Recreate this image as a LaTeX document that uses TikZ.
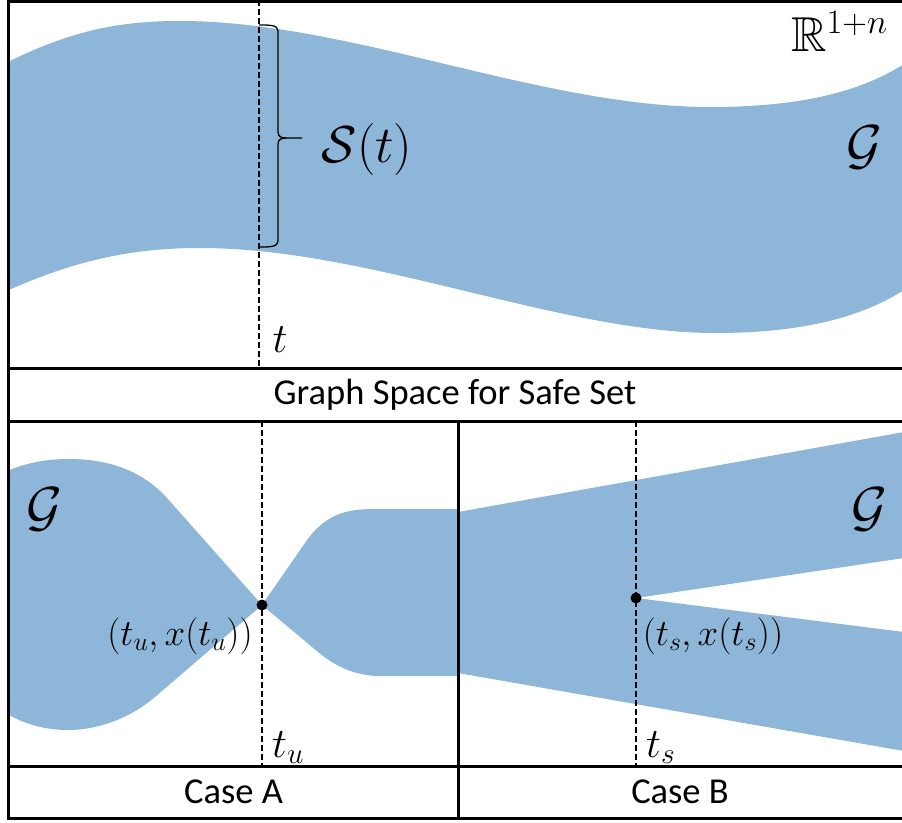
\RequirePackage{fix-cm}
\documentclass[tikz,border=0pt]{standalone}
\usepackage{amssymb}
\usepackage{fontspec}
\setmainfont{Carlito}
\newcommand\fsz[1]{\fontsize{#1}{#1}\selectfont}
\definecolor{setblue}{RGB}{142,182,217}
\tikzset{
  frameline/.style={line width=3pt, line cap=rect},
  dashline/.style={line width=1.6pt, dash pattern=on 6pt off 3pt},
  region/.style={fill=setblue, draw=none},
  lbl/.style={inner sep=0pt, text=black},
  capt/.style={inner sep=0pt, font=\fsz{36.5}},
  bracestyle/.style={line width=1.3pt},
  pt/.style={circle, fill=black, inner sep=0pt, minimum size=11pt}
}
\begin{document}
\begin{tikzpicture}[x=1pt,y=-1pt]
\useasboundingbox (0,0) rectangle (902,822);
% ---------- top panel ----------
\begin{scope}
\clip (8.5,1.5) rectangle (904,368);
\fill[region] (0,66) .. controls (70,30) and (120,21) .. (180,21)
  .. controls (350,21) and (540,107) .. (710,107)
  .. controls (800,107) and (860,92) .. (904,64)
  -- (904,290) .. controls (860,318) and (800,333) .. (715,333)
  .. controls (560,333) and (370,248) .. (200,248)
  .. controls (140,248) and (80,257) .. (0,294) -- cycle;
\end{scope}
\draw[dashline] (259,0) -- (259,368);
\draw[bracestyle] (259,25) .. controls (270,25) and (278,25) .. (278,31) -- (278,132)
  .. controls (278,137) and (282,138) .. (286,138) -- (302,138);
\draw[bracestyle] (286,138) .. controls (282,138) and (278,139) .. (278,144) -- (278,241)
  .. controls (278,247) and (270,247) .. (259,247);
\node[lbl, font=\fsz{52}] (St) at (367,149) {$\mathcal{S}(t)$};
\node[lbl, font=\fsz{55}] (Gtop) at (864,147) {$\mathcal{G}$};
\node[lbl, font=\fsz{49}, anchor=base west] (R) at (791,51) {$\mathbb{R}^{1+n}$};
\node[lbl, font=\fsz{42}] (t) at (280,340) {$t$};
% ---------- case A ----------
\begin{scope}
\clip (8.5,421) rectangle (458,766);
\fill[region] (262,605) -- (167,498) .. controls (138,466) and (100,459) .. (69,459)
  .. controls (40,459) and (20,465) .. (0,474) -- (0,710)
  .. controls (20,722) and (40,730) .. (69,730)
  .. controls (95,730) and (128,720) .. (155,697) -- cycle;
\fill[region] (262,605) -- (305,543) .. controls (324,515) and (345,509) .. (374,509)
  -- (460,509) -- (460,676) -- (380,676)
  .. controls (355,676) and (335,666) .. (318,652) -- cycle;
\end{scope}
% ---------- case B ----------
\begin{scope}
\clip (458,421) rectangle (904,766);
\fill[region] (458,512) -- (904,432) -- (904,558) -- (636,598) -- (904,632)
  -- (904,751) -- (458,673) -- cycle;
\end{scope}
\draw[dashline] (262,421) -- (262,766);
\draw[dashline] (636,421) -- (636,766);
\node[pt] (pu) at (262,605) {};
\node[pt] (ps) at (636,598) {};
\node[lbl, font=\fsz{55}] (GA) at (44,509) {$\mathcal{G}$};
\node[lbl, font=\fsz{55}] (GB) at (869,509) {$\mathcal{G}$};
\node[lbl, font=\fsz{37}] (lu) at (180,636) {$(t_u,x(t_u))$};
\node[lbl, font=\fsz{37}] (ls) at (713,636) {$(t_s,x(t_s))$};
\node[lbl, font=\fsz{42}, anchor=base west] (tu) at (272,757) {$t_u$};
\node[lbl, font=\fsz{42}, anchor=base west] (ts) at (646,757) {$t_s$};
% ---------- captions ----------
\node[capt] (cap1) at (455,395) {Graph Space for Safe Set};
\node[capt] (capA) at (233.5,792) {Case A};
\node[capt] (capB) at (680,792) {Case B};
% ---------- frame ----------
\draw[frameline] (906,1.5) -- (8.5,1.5) -- (8.5,818.5) -- (906,818.5);
\draw[frameline] (8.5,368) -- (906,368);
\draw[frameline] (8.5,421) -- (906,421);
\draw[frameline] (8.5,766) -- (906,766);
\draw[frameline] (458,421) -- (458,818.5);
\end{tikzpicture}
\end{document}
